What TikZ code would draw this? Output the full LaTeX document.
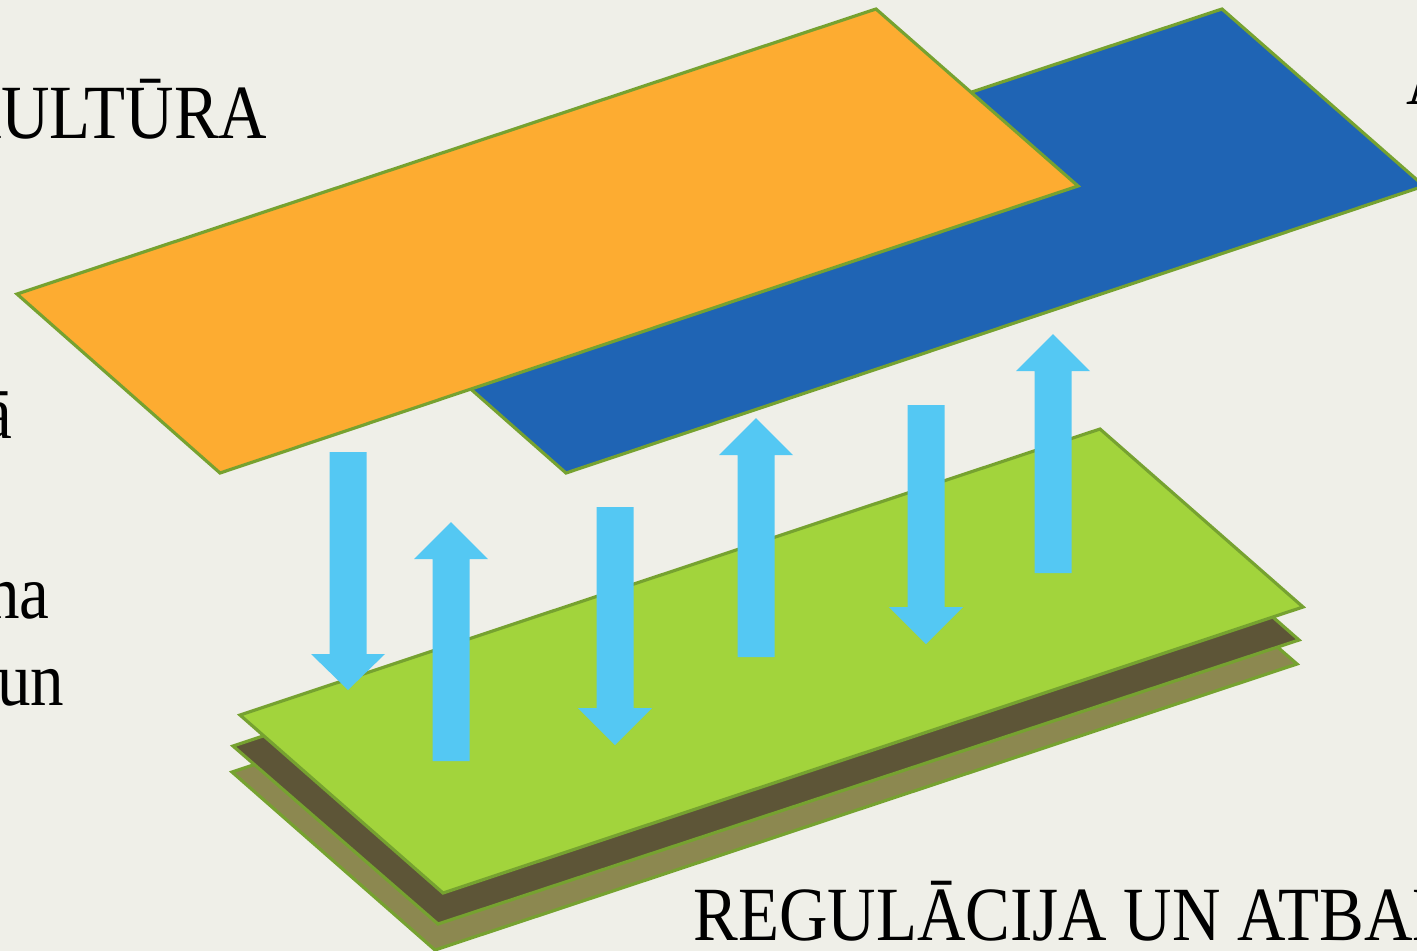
\documentclass[tikz,border=0pt]{standalone}
\usepackage{fontspec}
\setmainfont{Liberation Serif}
\definecolor{bgcol}{RGB}{239,239,232}
\definecolor{orangeplane}{RGB}{253,172,49}
\definecolor{blueplane}{RGB}{31,100,180}
\definecolor{greenplane}{RGB}{162,212,60}
\definecolor{darkplane}{RGB}{93,85,55}
\definecolor{oliveplane}{RGB}{140,136,80}
\definecolor{edgecol}{RGB}{118,162,48}
\definecolor{arrowcol}{RGB}{84,200,243}
\tikzset{
  plane/.style={draw=edgecol,line width=0.9pt,line join=miter},
  label/.style={inner sep=0pt,font=\fontsize{21.8}{26}\selectfont,xscale=0.875},
}
\begin{document}
\begin{tikzpicture}[x=0.01cm,y=-0.01cm]
    \useasboundingbox (0,0) rectangle (1417,951);
    \fill[bgcol] (0,0) rectangle (1417,951);
    \clip (0,0) rectangle (1417,951);
    % upper planes
    \filldraw[plane,fill=blueplane] (363,294) -- (1222,9) -- (1424,186) -- (566,473) -- cycle;
    \filldraw[plane,fill=orangeplane] (17,294) -- (876,9) -- (1078,186) -- (220,473) -- cycle;
    % lower planes
    \filldraw[plane,fill=oliveplane] (232,772) -- (1092,486) -- (1297,664) -- (435,950) -- cycle;
    \filldraw[plane,fill=darkplane] (233,746) -- (1094,460) -- (1299,640) -- (438,924) -- cycle;
    \filldraw[plane,fill=greenplane] (240,715) -- (1100,429) -- (1303,607) -- (443,893) -- cycle;
    % arrows: x, tail, head base, tip
    \foreach \x/\t/\h/\p in {348/452/654/690, 451/761/559/522, 615/507/708/745,
                             756/657/455/418, 926/405/607/644, 1053/573/371/334}
        \fill[arrowcol] (\x-18.5,\t) -- (\x-18.5,\h) -- (\x-37,\h) -- (\x,\p)
            -- (\x+37,\h) -- (\x+18.5,\h) -- (\x+18.5,\t) -- cycle;
    % texts
    \node[label,anchor=base east] (kultura) at (268,138) {KULTŪRA};
    \node[label,anchor=base west] (topright) at (1406,104) {A};
    \node[label,anchor=base east] (lefta) at (13,438) {ā};
    \node[label,anchor=base east] (leftna) at (50,618) {na};
    \node[label,anchor=base east] (leftun) at (65,705) {un};
    \node[label,anchor=base west] (regulacija) at (693,940) {REGULĀCIJA UN ATBAL};
\end{tikzpicture}
\end{document}
